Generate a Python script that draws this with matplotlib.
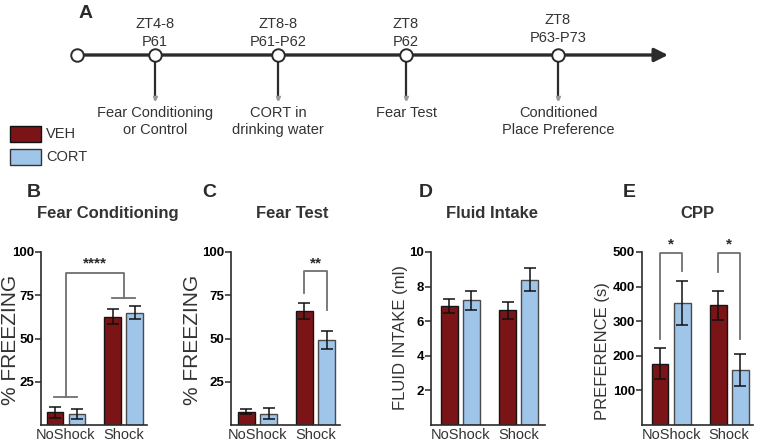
import matplotlib
matplotlib.use("Agg")
import matplotlib.pyplot as plt
import numpy as np
from matplotlib.patches import Rectangle

plt.rcParams['font.family'] = ['Liberation Sans', 'DejaVu Sans']

# ---- data ----
groups = ['NoShock', 'Shock']
treatments = ['VEH', 'CORT']

fc_veh = [7.3, 62.5]
fc_veh_err = [3.3, 4.3]
fc_cort = [6.5, 65.0]
fc_cort_err = [2.8, 3.6]

ft_veh = [7.7, 66.0]
ft_veh_err = [1.4, 4.7]
ft_cort = [6.6, 48.9]
ft_cort_err = [3.0, 5.2]

fi_veh = [6.88, 6.63]
fi_veh_err = [0.40, 0.48]
fi_cort = [7.22, 8.41]
fi_cort_err = [0.55, 0.64]

cpp_veh = [177, 346]
cpp_veh_err = [45, 42]
cpp_cort = [352, 160]
cpp_cort_err = [63, 46]

# timeline events
event_top = ['ZT4-8', 'ZT8-8', 'ZT8', 'ZT8']
event_mid = ['P61', 'P61-P62', 'P62', 'P63-P73']
event_bottom = [['Fear Conditioning', 'or Control'], ['CORT in', 'drinking water'],
                ['Fear Test'], ['Conditioned', 'Place Preference']]

# ---- layout / style ----
W, H = 761, 443
VEH_C = '#7a1416'
CORT_C = '#9fc5e8'
DARK = '#2b2b2b'
GREY = '#707070'
event_x = [155, 278, 406, 558]
event_dy = [0, 0, 0, -4]

fig = plt.figure(figsize=(W / 100, H / 100), dpi=100)

# overlay axes in pixel coordinates for timeline, legend and labels
ov = fig.add_axes([0, 0, 1, 1])
ov.set_xlim(0, W)
ov.set_ylim(H, 0)
ov.axis('off')

line_y = 55
ov.annotate('', xy=(668, line_y), xytext=(77, line_y),
            arrowprops=dict(arrowstyle='-|>', lw=2.4, color=DARK,
                            mutation_scale=20, shrinkA=0, shrinkB=0))
ov.plot(77, line_y, 'o', ms=9, mfc='white', mec=DARK, mew=1.4, zorder=5)
for x, t, m, b, dy in zip(event_x, event_top, event_mid, event_bottom, event_dy):
    ov.plot([x, x], [line_y, 99], color=DARK, lw=1.6, zorder=3)
    ov.plot(x, 98, marker='v', color='#9a9a9a', ms=3, zorder=4)
    ov.plot(x, line_y, 'o', ms=9, mfc='white', mec=DARK, mew=1.4, zorder=5)
    ov.text(x, 24 + dy, t, ha='center', va='center', fontsize=10.5, color='#333333')
    ov.text(x, 42 + dy, m, ha='center', va='center', fontsize=10.5, color='#333333')
    for i, line in enumerate(b):
        ov.text(x, 113 + 17 * i, line, ha='center', va='center', fontsize=10.5,
                color='#333333')

ov.text(79, 13, 'A', ha='left', va='center', fontsize=14, fontweight='bold', color=DARK)

# legend
for (y0, name, col, ec) in [(126, treatments[0], VEH_C, '#111111'),
                            (149, treatments[1], CORT_C, '#333333')]:
    ov.add_patch(Rectangle((10, y0), 31, 16, facecolor=col, edgecolor=ec, lw=1.0))
    ov.text(46, y0 + 8, name, ha='left', va='center', fontsize=10.5, color='#333333')


def px_axes(left, right, top, bottom):
    return fig.add_axes([left / W, 1 - bottom / H, (right - left) / W, (bottom - top) / H])


def draw_panel(ax, veh, veh_err, cort, cort_err, ymax, yticks, xlim):
    pos = np.arange(len(groups))
    off, w = 0.19, 0.29
    ax.bar(pos - off, veh, w, color=VEH_C, edgecolor='#151515', lw=1.0, zorder=2)
    ax.bar(pos + off, cort, w, color=CORT_C, edgecolor='#4a4a4a', lw=1.0, zorder=2)
    ax.errorbar(pos - off, veh, yerr=veh_err, fmt='none', ecolor='#111111',
                elinewidth=1.1, capsize=4, capthick=1.1, zorder=3)
    ax.errorbar(pos + off, cort, yerr=cort_err, fmt='none', ecolor='#111111',
                elinewidth=1.1, capsize=4, capthick=1.1, zorder=3)
    ax.set_xlim(*xlim)
    ax.set_ylim(0, ymax)
    ax.set_yticks(yticks)
    ax.set_yticklabels([str(t) for t in yticks], fontweight='bold', fontsize=9.5)
    ax.set_xticks(pos)
    ax.set_xticklabels(groups, fontsize=10.5, color='#333333')
    ax.tick_params(axis='x', length=0, pad=2)
    ax.tick_params(axis='y', length=4, width=1.1, color=DARK, pad=1)
    for s in ['top', 'right']:
        ax.spines[s].set_visible(False)
    for s in ['left', 'bottom']:
        ax.spines[s].set_color(DARK)
        ax.spines[s].set_linewidth(1.2)
    ax.patch.set_alpha(0)
    return pos, off


def bracket(ax, x1, x2, y_top, y1, y2, label, ystar):
    ax.plot([x1, x1, x2, x2], [y1, y_top, y_top, y2], color=GREY, lw=1.3,
            clip_on=False, zorder=4)
    ax.text((x1 + x2) / 2, ystar, label, ha='center', va='center', fontsize=11,
            fontweight='bold', color=DARK, clip_on=False)


# B: Fear Conditioning
axB = px_axes(41, 147, 252, 425)
pos, off = draw_panel(axB, fc_veh, fc_veh_err, fc_cort, fc_cort_err,
                      100, [25, 50, 75, 100], (-0.43, 1.40))
axB.plot([pos[0] - 0.2, pos[0] + 0.2], [16.3, 16.3], color=GREY, lw=1.3)
axB.plot([pos[1] - 0.2, pos[1] + 0.2], [73.5, 73.5], color=GREY, lw=1.3)
bracket(axB, pos[0], pos[1], 87.9, 16.3, 73.5, '****', 93.5)

# C: Fear Test
axC = px_axes(231, 340, 252, 425)
pos, off = draw_panel(axC, ft_veh, ft_veh_err, ft_cort, ft_cort_err,
                      100, [25, 50, 75, 100], (-0.457, 1.422))
bracket(axC, pos[1] - off, pos[1] + off, 88.8, 76.5, 66.3, '**', 93.5)

# D: Fluid Intake
axD = px_axes(431, 545, 252, 425)
draw_panel(axD, fi_veh, fi_veh_err, fi_cort, fi_cort_err,
           10, [2, 4, 6, 8, 10], (-0.50, 1.45))

# E: CPP
axE = px_axes(642, 753, 252, 425)
pos, off = draw_panel(axE, cpp_veh, cpp_veh_err, cpp_cort, cpp_cort_err,
                      500, [100, 200, 300, 400, 500], (-0.50, 1.41))
bracket(axE, pos[0] - off, pos[0] + off, 496, 249, 444, '*', 522)
bracket(axE, pos[1] - off, pos[1] + off, 496, 442, 249, '*', 522)

# panel letters, titles and y labels in pixel coordinates
for x, letter in [(27, 'B'), (202, 'C'), (419, 'D'), (623, 'E')]:
    ov.text(x, 192, letter, ha='left', va='center', fontsize=14,
            fontweight='bold', color=DARK)
for x, title in [(108, 'Fear Conditioning'), (292, 'Fear Test'),
                 (492, 'Fluid Intake'), (697, 'CPP')]:
    ov.text(x, 213, title, ha='center', va='center', fontsize=12,
            fontweight='bold', color='#333333')
for x, y, lab, fs in [(11, 340, '% FREEZING', 15), (193, 340, '% FREEZING', 15),
                      (401, 337, 'FLUID INTAKE (ml)', 12), (603, 351, 'PREFERENCE (s)', 12)]:
    ov.text(x, y, lab, ha='center', va='center', rotation=90, fontsize=fs,
            color='#333333')

fig.savefig('out.png', dpi=100)
